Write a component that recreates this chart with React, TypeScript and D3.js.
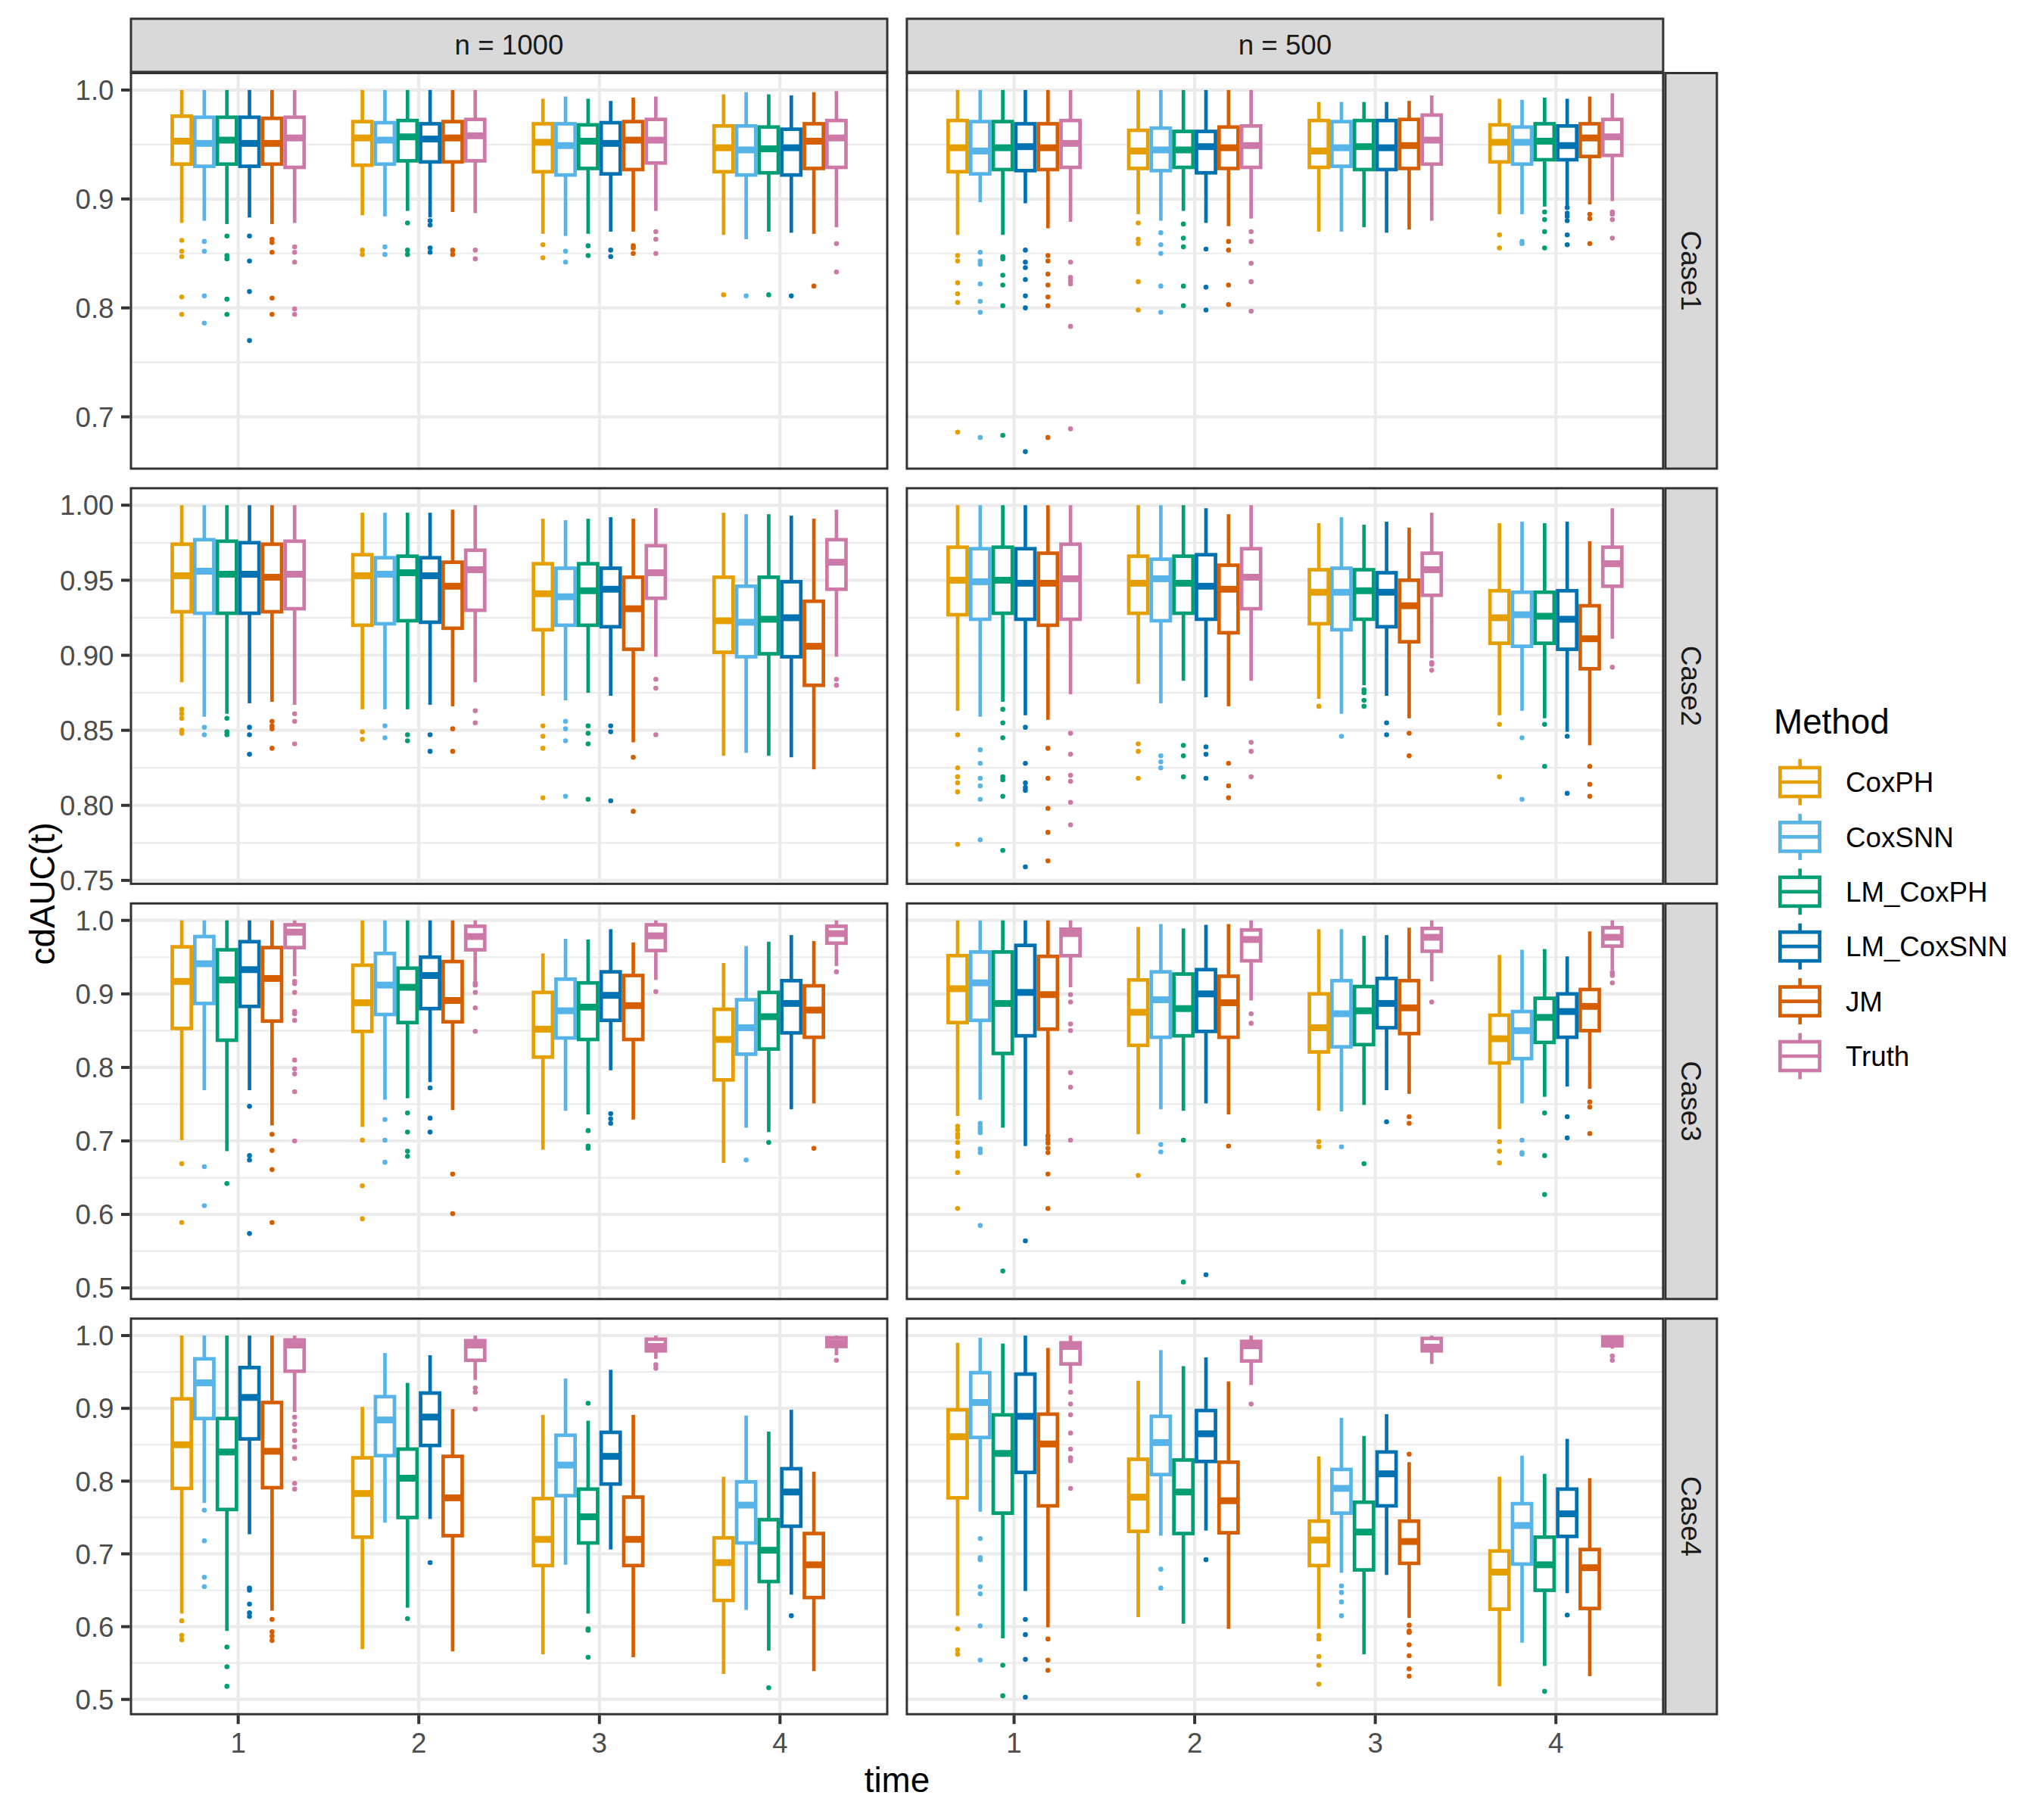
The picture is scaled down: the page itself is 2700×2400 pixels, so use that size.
import * as d3 from 'd3';

// lo, q1, median, q3, hi  (one row per method, one block per time)
type Box = [number, number, number, number, number];

const methods = ['CoxPH', 'CoxSNN', 'LM_CoxPH', 'LM_CoxSNN', 'JM', 'Truth'];
const methodColors = ['#E69F00', '#56B4E9', '#009E73', '#0072B2', '#D55E00', '#CC79A7'];
const times = [1, 2, 3, 4];
const caseLabels = ['Case1', 'Case2', 'Case3', 'Case4'];
const nLabels = ['n = 1000', 'n = 500'];

const yTicksCase1 = [0.7, 0.8, 0.9, 1.0];
const yTicksCase2 = [0.75, 0.8, 0.85, 0.9, 0.95, 1.0];
const yTicksCase3 = [0.5, 0.6, 0.7, 0.8, 0.9, 1.0];
const yTicksCase4 = [0.5, 0.6, 0.7, 0.8, 0.9, 1.0];
const yTickDigits = [1, 2, 1, 1];

// ---------- Case1 ----------
const c1n1000Stats: Box[][] = [
  [[0.878, 0.932, 0.953, 0.976, 1.0], [0.880, 0.930, 0.951, 0.975, 1.0], [0.877, 0.932, 0.954, 0.975, 1.0],
   [0.883, 0.930, 0.951, 0.975, 1.0], [0.877, 0.932, 0.951, 0.974, 1.0], [0.878, 0.929, 0.956, 0.975, 1.0]],
  [[0.885, 0.931, 0.956, 0.971, 1.0], [0.884, 0.932, 0.954, 0.970, 1.0], [0.889, 0.935, 0.957, 0.972, 1.0],
   [0.883, 0.934, 0.955, 0.969, 1.0], [0.888, 0.934, 0.956, 0.971, 1.0], [0.887, 0.935, 0.958, 0.973, 1.0]],
  [[0.868, 0.925, 0.952, 0.969, 0.992], [0.866, 0.922, 0.949, 0.969, 0.994], [0.868, 0.928, 0.953, 0.968, 0.992],
   [0.870, 0.923, 0.951, 0.970, 0.990], [0.870, 0.927, 0.954, 0.971, 0.993], [0.889, 0.933, 0.954, 0.973, 0.994]],
  [[0.867, 0.925, 0.947, 0.967, 0.996], [0.863, 0.922, 0.945, 0.967, 0.998], [0.870, 0.924, 0.946, 0.966, 0.996],
   [0.869, 0.922, 0.947, 0.964, 0.995], [0.868, 0.928, 0.953, 0.969, 0.998], [0.874, 0.929, 0.956, 0.972, 0.999]],
];
const c1n1000Out: number[][][] = [
  [[0.862, 0.852, 0.847, 0.810, 0.794], [0.861, 0.852, 0.811, 0.786], [0.866, 0.848, 0.845, 0.808, 0.794],
   [0.866, 0.843, 0.815, 0.770], [0.863, 0.860, 0.851, 0.809, 0.794], [0.856, 0.851, 0.842, 0.799, 0.794]],
  [[0.853, 0.849], [0.856, 0.849], [0.878, 0.853, 0.849], [0.880, 0.876, 0.855, 0.851], [0.853, 0.849], [0.853, 0.845]],
  [[0.858, 0.846], [0.852, 0.842], [0.857, 0.848], [0.853, 0.847], [0.857, 0.855, 0.850], [0.870, 0.863, 0.850]],
  [[0.812], [0.811], [0.812], [0.811], [0.820], [0.859, 0.833]],
];

const c1n500Stats: Box[][] = [
  [[0.867, 0.925, 0.947, 0.972, 1.0], [0.897, 0.923, 0.944, 0.971, 1.0], [0.867, 0.927, 0.947, 0.971, 1.0],
   [0.896, 0.926, 0.948, 0.969, 1.0], [0.873, 0.927, 0.947, 0.969, 1.0], [0.879, 0.929, 0.951, 0.972, 1.0]],
  [[0.886, 0.928, 0.944, 0.963, 1.0], [0.880, 0.926, 0.945, 0.965, 1.0], [0.889, 0.929, 0.945, 0.962, 1.0],
   [0.878, 0.924, 0.948, 0.962, 1.0], [0.875, 0.928, 0.947, 0.966, 1.0], [0.882, 0.929, 0.949, 0.967, 1.0]],
  [[0.870, 0.929, 0.944, 0.972, 0.989], [0.870, 0.930, 0.947, 0.971, 0.989], [0.874, 0.927, 0.948, 0.972, 0.989],
   [0.869, 0.927, 0.947, 0.972, 0.989], [0.872, 0.928, 0.949, 0.973, 0.990], [0.880, 0.932, 0.954, 0.977, 0.995]],
  [[0.886, 0.934, 0.952, 0.968, 0.992], [0.886, 0.932, 0.952, 0.966, 0.991], [0.893, 0.936, 0.953, 0.969, 0.993],
   [0.893, 0.936, 0.949, 0.967, 0.992], [0.895, 0.939, 0.956, 0.969, 0.994], [0.898, 0.940, 0.957, 0.973, 0.997]],
];
const c1n500Out: number[][][] = [
  [[0.848, 0.843, 0.823, 0.813, 0.805, 0.686], [0.851, 0.843, 0.840, 0.822, 0.806, 0.796, 0.681],
   [0.847, 0.845, 0.830, 0.821, 0.802, 0.683], [0.853, 0.842, 0.837, 0.826, 0.811, 0.800, 0.668],
   [0.848, 0.843, 0.831, 0.821, 0.810, 0.802, 0.681], [0.842, 0.828, 0.825, 0.822, 0.783, 0.689]],
  [[0.878, 0.863, 0.859, 0.824, 0.798], [0.869, 0.858, 0.850, 0.820, 0.796], [0.877, 0.864, 0.856, 0.820, 0.802],
   [0.854, 0.819, 0.798], [0.861, 0.853, 0.821, 0.803], [0.870, 0.861, 0.841, 0.824, 0.797]],
  [[], [], [], [], [], []],
  [[0.867, 0.855], [0.861, 0.859], [0.888, 0.881, 0.870, 0.855], [0.892, 0.887, 0.884, 0.880, 0.867, 0.858],
   [0.886, 0.882, 0.859], [0.888, 0.886, 0.881, 0.864]],
];

// ---------- Case2 ----------
const c2n1000Stats: Box[][] = [
  [[0.882, 0.929, 0.953, 0.974, 1.0], [0.859, 0.928, 0.956, 0.977, 1.0], [0.861, 0.928, 0.954, 0.976, 1.0],
   [0.868, 0.928, 0.954, 0.975, 1.0], [0.869, 0.929, 0.952, 0.974, 1.0], [0.867, 0.931, 0.954, 0.976, 1.0]],
  [[0.864, 0.920, 0.953, 0.967, 0.995], [0.864, 0.921, 0.954, 0.965, 0.995], [0.864, 0.923, 0.955, 0.966, 0.995],
   [0.867, 0.922, 0.953, 0.965, 0.995], [0.866, 0.918, 0.946, 0.962, 0.997], [0.882, 0.930, 0.957, 0.970, 1.0]],
  [[0.873, 0.917, 0.941, 0.961, 0.991], [0.870, 0.920, 0.939, 0.958, 0.990], [0.875, 0.920, 0.943, 0.961, 0.991],
   [0.873, 0.919, 0.944, 0.958, 0.992], [0.842, 0.904, 0.931, 0.952, 0.991], [0.899, 0.938, 0.955, 0.973, 0.998]],
  [[0.833, 0.902, 0.923, 0.952, 0.995], [0.835, 0.899, 0.922, 0.946, 0.994], [0.833, 0.901, 0.924, 0.952, 0.994],
   [0.832, 0.899, 0.925, 0.949, 0.993], [0.824, 0.880, 0.906, 0.936, 0.991], [0.899, 0.944, 0.962, 0.977, 0.997]],
];
const c2n1000Out: number[][][] = [
  [[0.864, 0.861, 0.858, 0.850, 0.848], [0.852, 0.847], [0.858, 0.849, 0.847], [0.852, 0.847, 0.834],
   [0.856, 0.853, 0.851, 0.838], [0.861, 0.856, 0.841]],
  [[0.849, 0.844], [0.853, 0.845], [0.847, 0.843], [0.847, 0.836], [0.851, 0.836], [0.863, 0.855]],
  [[0.853, 0.846, 0.838, 0.805], [0.856, 0.851, 0.843, 0.806], [0.853, 0.848, 0.841, 0.804], [0.853, 0.849, 0.803],
   [0.832, 0.796], [0.884, 0.878, 0.847]],
  [[], [], [], [], [], [0.884, 0.880]],
];

const c2n500Stats: Box[][] = [
  [[0.863, 0.927, 0.950, 0.972, 1.0], [0.859, 0.924, 0.949, 0.971, 1.0], [0.869, 0.928, 0.950, 0.972, 1.0],
   [0.860, 0.924, 0.948, 0.971, 1.0], [0.857, 0.920, 0.948, 0.968, 1.0], [0.874, 0.924, 0.951, 0.974, 1.0]],
  [[0.881, 0.928, 0.948, 0.966, 1.0], [0.868, 0.923, 0.951, 0.964, 1.0], [0.883, 0.928, 0.948, 0.966, 1.0],
   [0.872, 0.924, 0.946, 0.967, 0.998], [0.866, 0.915, 0.944, 0.960, 0.994], [0.883, 0.931, 0.952, 0.971, 1.0]],
  [[0.871, 0.921, 0.942, 0.957, 0.988], [0.861, 0.917, 0.942, 0.958, 0.992], [0.880, 0.924, 0.943, 0.957, 0.987],
   [0.873, 0.919, 0.942, 0.955, 0.989], [0.858, 0.909, 0.933, 0.950, 0.985], [0.898, 0.940, 0.957, 0.968, 0.995]],
  [[0.860, 0.908, 0.925, 0.943, 0.988], [0.863, 0.906, 0.927, 0.942, 0.989], [0.858, 0.908, 0.926, 0.942, 0.988],
   [0.849, 0.904, 0.924, 0.943, 0.989], [0.840, 0.891, 0.911, 0.933, 0.976], [0.911, 0.946, 0.961, 0.972, 0.998]],
];
const c2n500Out: number[][][] = [
  [[0.847, 0.825, 0.819, 0.815, 0.809, 0.774], [0.837, 0.828, 0.818, 0.813, 0.804, 0.777],
   [0.864, 0.855, 0.845, 0.819, 0.817, 0.806, 0.770], [0.852, 0.828, 0.815, 0.812, 0.810, 0.759],
   [0.838, 0.818, 0.798, 0.782, 0.763], [0.848, 0.834, 0.820, 0.816, 0.802, 0.787]],
  [[0.841, 0.836, 0.818], [0.833, 0.829, 0.825], [0.840, 0.833, 0.819], [0.839, 0.834, 0.818],
   [0.828, 0.813, 0.805], [0.842, 0.836, 0.819]],
  [[0.866], [0.846], [0.877, 0.875, 0.870, 0.866], [0.855, 0.847], [0.848, 0.833], [0.895, 0.894, 0.890]],
  [[0.854, 0.819], [0.845, 0.804], [0.854, 0.826], [0.846, 0.808], [0.826, 0.814, 0.806], [0.892]],
];

// ---------- Case3 ----------
const c3n1000Stats: Box[][] = [
  [[0.701, 0.853, 0.917, 0.964, 1.0], [0.769, 0.887, 0.941, 0.978, 1.0], [0.686, 0.837, 0.919, 0.960, 1.0],
   [0.769, 0.883, 0.933, 0.971, 1.0], [0.721, 0.863, 0.921, 0.963, 1.0], [0.924, 0.963, 0.984, 0.994, 1.0]],
  [[0.719, 0.849, 0.888, 0.939, 1.0], [0.756, 0.872, 0.912, 0.955, 1.0], [0.758, 0.861, 0.909, 0.935, 1.0],
   [0.780, 0.880, 0.925, 0.950, 1.0], [0.742, 0.862, 0.891, 0.944, 1.0], [0.918, 0.960, 0.978, 0.992, 1.0]],
  [[0.688, 0.814, 0.852, 0.902, 0.955], [0.741, 0.840, 0.877, 0.920, 0.975], [0.736, 0.838, 0.882, 0.915, 0.974],
   [0.796, 0.864, 0.898, 0.930, 0.988], [0.729, 0.838, 0.884, 0.925, 0.970], [0.919, 0.959, 0.979, 0.994, 1.0]],
  [[0.670, 0.783, 0.838, 0.879, 0.942], [0.718, 0.818, 0.854, 0.892, 0.965], [0.712, 0.825, 0.869, 0.902, 0.971],
   [0.743, 0.847, 0.887, 0.918, 0.980], [0.751, 0.841, 0.878, 0.911, 0.972], [0.938, 0.969, 0.982, 0.992, 1.0]],
];
const c3n1000Out: number[][][] = [
  [[0.669, 0.589], [0.665, 0.612], [0.642], [0.747, 0.680, 0.674, 0.574], [0.709, 0.687, 0.661, 0.589],
   [0.917, 0.914, 0.902, 0.876, 0.873, 0.864, 0.810, 0.798, 0.791, 0.767, 0.700]],
  [[0.701, 0.639, 0.594], [0.729, 0.701, 0.671], [0.738, 0.712, 0.686, 0.679], [0.772, 0.731, 0.712],
   [0.655, 0.601], [0.915, 0.912, 0.902, 0.881, 0.849]],
  [[], [], [0.714, 0.693, 0.690], [0.737, 0.730, 0.724], [], [0.903]],
  [[], [0.674], [0.698], [], [0.690], [0.930]],
];

const c3n500Stats: Box[][] = [
  [[0.734, 0.861, 0.907, 0.952, 1.0], [0.756, 0.864, 0.915, 0.957, 1.0], [0.718, 0.819, 0.887, 0.957, 1.0],
   [0.693, 0.843, 0.902, 0.966, 1.0], [0.708, 0.852, 0.899, 0.951, 1.0], [0.909, 0.952, 0.982, 0.988, 1.0]],
  [[0.709, 0.830, 0.875, 0.919, 0.991], [0.743, 0.841, 0.892, 0.930, 0.995], [0.741, 0.843, 0.880, 0.927, 0.989],
   [0.751, 0.849, 0.900, 0.933, 0.994], [0.736, 0.841, 0.888, 0.924, 0.995], [0.891, 0.945, 0.974, 0.987, 1.0]],
  [[0.741, 0.821, 0.854, 0.900, 0.988], [0.740, 0.828, 0.873, 0.918, 0.988], [0.749, 0.831, 0.877, 0.910, 0.979],
   [0.769, 0.854, 0.887, 0.921, 0.980], [0.764, 0.846, 0.881, 0.918, 0.990], [0.917, 0.958, 0.977, 0.989, 1.0]],
  [[0.716, 0.806, 0.839, 0.871, 0.953], [0.751, 0.812, 0.850, 0.876, 0.960], [0.760, 0.834, 0.868, 0.894, 0.961],
   [0.774, 0.841, 0.876, 0.900, 0.951], [0.771, 0.850, 0.883, 0.906, 0.985], [0.932, 0.965, 0.977, 0.990, 1.0]],
];
const c3n500Out: number[][][] = [
  [[0.720, 0.715, 0.709, 0.705, 0.698, 0.684, 0.679, 0.657, 0.608], [0.724, 0.719, 0.715, 0.711, 0.689, 0.684, 0.585],
   [0.523], [0.564], [0.707, 0.702, 0.697, 0.690, 0.684, 0.655, 0.608], [0.899, 0.889, 0.859, 0.850, 0.793, 0.773, 0.701]],
  [[0.653], [0.695, 0.685], [0.701, 0.508], [0.518], [0.693], [0.873, 0.860]],
  [[0.699, 0.692], [0.692], [0.669], [0.726], [0.733, 0.724], [0.889]],
  [[0.699, 0.686, 0.670], [0.701, 0.684, 0.682], [0.738, 0.680, 0.627], [0.733, 0.704], [0.753, 0.746, 0.710],
   [0.929, 0.925, 0.915]],
];

// ---------- Case4 ----------
const c4n1000Stats: Box[][] = [
  [[0.618, 0.790, 0.850, 0.913, 1.0], [0.770, 0.886, 0.935, 0.968, 1.0], [0.594, 0.761, 0.840, 0.886, 1.0],
   [0.727, 0.858, 0.915, 0.956, 1.0], [0.622, 0.791, 0.841, 0.908, 1.0], [0.895, 0.951, 0.987, 0.994, 1.0]],
  [[0.569, 0.723, 0.783, 0.832, 0.902], [0.743, 0.835, 0.884, 0.916, 0.976], [0.626, 0.750, 0.804, 0.844, 0.935],
   [0.748, 0.849, 0.888, 0.921, 0.973], [0.566, 0.725, 0.777, 0.834, 0.899], [0.939, 0.966, 0.987, 0.993, 1.0]],
  [[0.562, 0.684, 0.720, 0.776, 0.891], [0.685, 0.780, 0.822, 0.863, 0.941], [0.618, 0.715, 0.751, 0.789, 0.883],
   [0.706, 0.796, 0.834, 0.867, 0.953], [0.558, 0.684, 0.720, 0.778, 0.891], [0.968, 0.979, 0.985, 0.995, 1.0]],
  [[0.535, 0.636, 0.688, 0.722, 0.806], [0.623, 0.715, 0.767, 0.799, 0.890], [0.567, 0.662, 0.705, 0.747, 0.868],
   [0.644, 0.738, 0.785, 0.817, 0.898], [0.539, 0.640, 0.685, 0.728, 0.813], [0.973, 0.985, 0.990, 0.997, 1.0]],
];
const c4n1000Out: number[][][] = [
  [[0.608, 0.588, 0.582], [0.760, 0.718, 0.668, 0.655], [0.572, 0.545, 0.518], [0.653, 0.650, 0.631, 0.619, 0.614],
   [0.610, 0.593, 0.587, 0.581], [0.888, 0.878, 0.869, 0.856, 0.847, 0.831, 0.797, 0.789]],
  [[], [], [0.611], [0.688], [], [0.928, 0.922, 0.899]],
  [[], [], [0.907, 0.597, 0.595, 0.558], [], [], [0.960, 0.955]],
  [[], [], [0.516], [0.615], [], [0.966]],
];

const c4n500Stats: Box[][] = [
  [[0.615, 0.777, 0.861, 0.898, 0.990], [0.758, 0.860, 0.908, 0.949, 0.997], [0.584, 0.756, 0.838, 0.891, 0.989],
   [0.649, 0.812, 0.889, 0.947, 1.0], [0.599, 0.766, 0.851, 0.892, 0.983], [0.934, 0.961, 0.985, 0.990, 1.0]],
  [[0.613, 0.731, 0.778, 0.830, 0.938], [0.725, 0.809, 0.853, 0.889, 0.980], [0.604, 0.728, 0.785, 0.829, 0.958],
   [0.732, 0.827, 0.865, 0.897, 0.970], [0.597, 0.729, 0.773, 0.826, 0.937], [0.932, 0.965, 0.986, 0.992, 1.0]],
  [[0.597, 0.684, 0.719, 0.745, 0.834], [0.674, 0.756, 0.790, 0.816, 0.887], [0.562, 0.678, 0.730, 0.771, 0.862],
   [0.671, 0.766, 0.810, 0.840, 0.892], [0.612, 0.687, 0.717, 0.745, 0.826], [0.961, 0.979, 0.984, 0.996, 1.0]],
  [[0.518, 0.624, 0.675, 0.704, 0.806], [0.578, 0.686, 0.739, 0.769, 0.835], [0.546, 0.650, 0.685, 0.723, 0.810],
   [0.646, 0.724, 0.755, 0.789, 0.858], [0.532, 0.625, 0.681, 0.706, 0.804], [0.982, 0.986, 0.992, 0.998, 1.0]],
];
const c4n500Out: number[][][] = [
  [[0.597, 0.568, 0.562], [0.721, 0.695, 0.692, 0.655, 0.645, 0.601, 0.554], [0.547, 0.505],
   [0.610, 0.589, 0.555, 0.503], [0.583, 0.554, 0.540], [0.922, 0.906, 0.891, 0.866, 0.844, 0.832, 0.828, 0.790]],
  [[], [0.679, 0.653], [], [0.692], [], [0.906]],
  [[0.588, 0.583, 0.559, 0.547, 0.521], [0.656, 0.647, 0.634, 0.615], [], [],
   [0.837, 0.602, 0.594, 0.592, 0.575, 0.560, 0.542, 0.532], []],
  [[], [], [0.511], [0.616], [], [0.972, 0.966]],
];

const yTicks = [yTicksCase1, yTicksCase2, yTicksCase3, yTicksCase4];
const panelStats = [
  [c1n1000Stats, c1n500Stats],
  [c2n1000Stats, c2n500Stats],
  [c3n1000Stats, c3n500Stats],
  [c4n1000Stats, c4n500Stats],
];
const panelOut = [
  [c1n1000Out, c1n500Out],
  [c2n1000Out, c2n500Out],
  [c3n1000Out, c3n500Out],
  [c4n1000Out, c4n500Out],
];

const FONT = '"Liberation Sans", Arial, Helvetica, sans-serif';

// layout (px)
const plotLeft = 171.5;
const colW = 1002;
const colGap = 22.9;
const rowTop = 95;
const rowH = 525.5;
const rowGap = 22.9;
const stripTop = 23.3;
const stripW = 71;
const lw = 4.7;

function rowDomain(r: number): [number, number] {
  const vals: number[] = [];
  for (let c = 0; c < 2; c++) {
    panelStats[r][c].forEach(t => t.forEach(b => vals.push(b[0], b[4])));
    panelOut[r][c].forEach(t => t.forEach(o => vals.push(...o)));
  }
  const [lo, hi] = d3.extent(vals) as [number, number];
  const pad = (hi - lo) * 0.05;
  return [lo - pad, hi + pad];
}

export default function App() {
  const W = 2700;
  const H = 2400;
  const panelsRight = plotLeft + 2 * colW + colGap;
  const bottom = rowTop + 4 * rowH + 3 * rowGap;

  const panels: JSX.Element[] = [];
  const yAxes: JSX.Element[] = [];

  caseLabels.forEach((caseLabel, r) => {
    const py = rowTop + r * (rowH + rowGap);
    const y = d3.scaleLinear().domain(rowDomain(r)).range([py + rowH, py]);
    const majors = yTicks[r];
    const step = majors[1] - majors[0];
    const minors = [majors[0] - step / 2, ...majors.map(v => v + step / 2)].filter(v => {
      const [a, b] = y.domain();
      return v > a && v < b;
    });
    const fmt = d3.format(`.${yTickDigits[r]}f`);

    yAxes.push(
      <g key={`yax${r}`}>
        {majors.map(v => (
          <g key={v}>
            <line x1={plotLeft - 11.5} x2={plotLeft} y1={y(v)} y2={y(v)} stroke="#333333" strokeWidth={4} />
            <text x={plotLeft - 21} y={y(v)} dy="0.36em" textAnchor="end" fontSize={36.7} fill="#4D4D4D">
              {fmt(v)}
            </text>
          </g>
        ))}
      </g>
    );

    nLabels.forEach((_, c) => {
      const px = plotLeft + c * (colW + colGap);
      const x = d3.scaleLinear().domain([0.4, 4.6]).range([px, px + colW]);
      const unit = x(1) - x(0);
      const step6 = 0.125 * unit;
      const bw = step6 - lw;
      const stats = panelStats[r][c];
      const outs = panelOut[r][c];

      panels.push(
        <g key={`p${r}-${c}`}>
          <rect x={px} y={py} width={colW} height={rowH} fill="#FFFFFF" />
          {minors.map(v => (
            <line key={`mn${v}`} x1={px} x2={px + colW} y1={y(v)} y2={y(v)} stroke="#EBEBEB" strokeWidth={2.2} />
          ))}
          {majors.map(v => (
            <line key={`mj${v}`} x1={px} x2={px + colW} y1={y(v)} y2={y(v)} stroke="#EBEBEB" strokeWidth={4.2} />
          ))}
          {times.map(t => (
            <line key={`vx${t}`} x1={x(t)} x2={x(t)} y1={py} y2={py + rowH} stroke="#EBEBEB" strokeWidth={4.2} />
          ))}
          {times.map((t, ti) =>
            methods.map((m, mi) => {
              const [lo, q1, med, q3, hi] = stats[ti][mi];
              const cx = x(t) + (mi - 2.5) * step6;
              const col = methodColors[mi];
              return (
                <g key={`${t}-${m}`}>
                  {outs[ti][mi].map((o, oi) => (
                    <circle key={oi} cx={cx} cy={y(o)} r={3.3} fill={col} />
                  ))}
                  <line x1={cx} x2={cx} y1={y(hi)} y2={y(q3)} stroke={col} strokeWidth={lw} />
                  <line x1={cx} x2={cx} y1={y(q1)} y2={y(lo)} stroke={col} strokeWidth={lw} />
                  <rect x={cx - bw / 2} y={y(q3)} width={bw} height={y(q1) - y(q3)} fill="#FFFFFF" stroke={col} strokeWidth={lw} />
                  <line x1={cx - bw / 2} x2={cx + bw / 2} y1={y(med)} y2={y(med)} stroke={col} strokeWidth={9} />
                </g>
              );
            })
          )}
          <rect x={px + 1.5} y={py + 1.5} width={colW - 3} height={rowH - 3} fill="none" stroke="#333333" strokeWidth={3} />
        </g>
      );
    });

    // right strip
    const sx = panelsRight;
    panels.push(
      <g key={`rs${r}`}>
        <rect x={sx + 1.5} y={py + 1.5} width={stripW - 3} height={rowH - 3} fill="#D9D9D9" stroke="#333333" strokeWidth={3} />
        <text
          transform={`translate(${sx + stripW / 2},${py + rowH / 2}) rotate(90)`}
          textAnchor="middle"
          dy="0.36em"
          fontSize={36.7}
          fill="#1A1A1A"
        >
          {caseLabel}
        </text>
      </g>
    );
  });

  // top strips + x axis
  const topStrips = nLabels.map((lab, c) => {
    const px = plotLeft + c * (colW + colGap);
    const x = d3.scaleLinear().domain([0.4, 4.6]).range([px, px + colW]);
    return (
      <g key={`ts${c}`}>
        <rect x={px + 1.5} y={stripTop + 1.5} width={colW - 3} height={rowTop - stripTop - 1.5} fill="#D9D9D9" stroke="#333333" strokeWidth={3} />
        <text x={px + colW / 2} y={(stripTop + rowTop) / 2} dy="0.36em" textAnchor="middle" fontSize={36.7} fill="#1A1A1A">
          {lab}
        </text>
        {times.map(t => (
          <g key={t}>
            <line x1={x(t)} x2={x(t)} y1={bottom} y2={bottom + 11.5} stroke="#333333" strokeWidth={4} />
            <text x={x(t)} y={bottom + 49} textAnchor="middle" fontSize={36.7} fill="#4D4D4D">
              {t}
            </text>
          </g>
        ))}
      </g>
    );
  });

  // legend
  const legX = 2343;
  const keyY0 = 1033;
  const keyStep = 72.4;
  const legend = (
    <g>
      <text x={legX} y={969} fontSize={45.8} fill="#000000">
        Method
      </text>
      {methods.map((m, i) => {
        const cy = keyY0 + i * keyStep;
        const kx = 2377.7;
        const col = methodColors[i];
        return (
          <g key={m}>
            <line x1={kx} x2={kx} y1={cy - 30.5} y2={cy + 30.5} stroke={col} strokeWidth={lw} />
            <rect x={2351.4} y={cy - 19} width={52.2} height={38} fill="#FFFFFF" stroke={col} strokeWidth={lw} />
            <line x1={2351.4} x2={2403.6} y1={cy} y2={cy} stroke={col} strokeWidth={lw} />
            <text x={2438} y={cy} dy="0.36em" fontSize={36.7} fill="#000000">
              {m}
            </text>
          </g>
        );
      })}
    </g>
  );

  return (
    <svg
      width={W}
      height={H}
      viewBox={`0 0 ${W} ${H}`}
      style={{ position: 'absolute', left: 0, top: 0, background: '#FFFFFF' }}
      fontFamily={FONT}
    >
      <rect width={W} height={H} fill="#FFFFFF" />
      {panels}
      {yAxes}
      {topStrips}
      {legend}
      <text x={(plotLeft + plotLeft + 2 * colW + colGap) / 2} y={2367} textAnchor="middle" fontSize={45.8} fill="#000000">
        time
      </text>
      <text transform={`translate(72,${(rowTop + bottom) / 2}) rotate(-90)`} textAnchor="middle" fontSize={45.8} fill="#000000">
        cdAUC(t)
      </text>
    </svg>
  );
}
